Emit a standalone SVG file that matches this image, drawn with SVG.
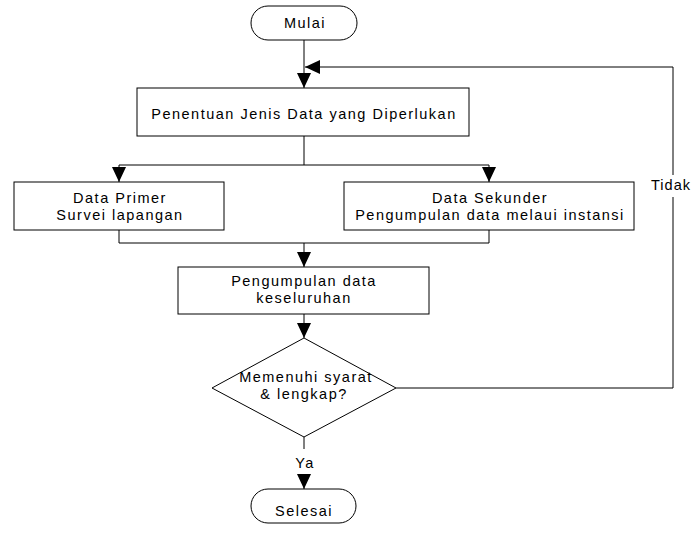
<svg xmlns="http://www.w3.org/2000/svg" width="693" height="535" viewBox="0 0 693 535">
<style>
.s{fill:#fff;stroke:#000;stroke-width:1}
.c{fill:none;stroke:#000;stroke-width:1}
text{font-family:"Liberation Sans",Arial,sans-serif;font-size:14.5px;letter-spacing:1.5px;fill:#000;text-anchor:middle}
</style>
<defs>
<marker id="ah" markerUnits="userSpaceOnUse" markerWidth="15" markerHeight="14" refX="15" refY="7" orient="auto">
<path d="M0,0 L15,7 L0,14 Z" fill="#000"/>
</marker>
</defs>
<rect width="693" height="535" fill="#fff"/>
<g id="connectors">
<path class="c" d="M304,40 V88" marker-end="url(#ah)"/>
<path class="c" d="M304,136 V165 M119,165 H489"/>
<path class="c" d="M119,165 V182" marker-end="url(#ah)"/>
<path class="c" d="M489,165 V182" marker-end="url(#ah)"/>
<path class="c" d="M119,230 V243 H489 M489,230 V243"/>
<path class="c" d="M304,243 V267" marker-end="url(#ah)"/>
<path class="c" d="M304,314 V338" marker-end="url(#ah)"/>
<path class="c" d="M396,388 H673 V197 M673,175 V67"/>
<path class="c" d="M673,67 H305" marker-end="url(#ah)"/>
<path class="c" d="M304,437 V449"/>
<path class="c" d="M304,474 V489" marker-end="url(#ah)"/>
<text x="671" y="190" style="letter-spacing:1px">Tidak</text>
<text x="305" y="468">Ya</text>
</g>
<g id="mulai">
<rect class="s" x="251" y="6" width="106" height="34" rx="17"/>
<text x="305" y="28">Mulai</text>
</g>
<g id="penentuan">
<rect class="s" x="137" y="88" width="332" height="48"/>
<text x="304" y="119">Penentuan Jenis Data yang Diperlukan</text>
</g>
<g id="primer">
<rect class="s" x="14" y="182" width="210" height="48"/>
<text x="120" y="203">Data Primer</text>
<text x="120" y="220">Survei lapangan</text>
</g>
<g id="sekunder">
<rect class="s" x="344" y="182" width="290" height="48"/>
<text x="490" y="203">Data Sekunder</text>
<text x="490" y="220">Pengumpulan data melaui instansi</text>
</g>
<g id="pengumpulan">
<rect class="s" x="178" y="267" width="251" height="47"/>
<text x="304" y="286">Pengumpulan data</text>
<text x="304" y="303">keseluruhan</text>
</g>
<g id="keputusan">
<polygon class="s" points="304,338 396,388 304,437 212,388"/>
<text x="306" y="382">Memenuhi syarat</text>
<text x="304" y="399">&amp; lengkap?</text>
</g>
<g id="selesai">
<rect class="s" x="251" y="489" width="105" height="34" rx="17"/>
<text x="304" y="516">Selesai</text>
</g>
</svg>
